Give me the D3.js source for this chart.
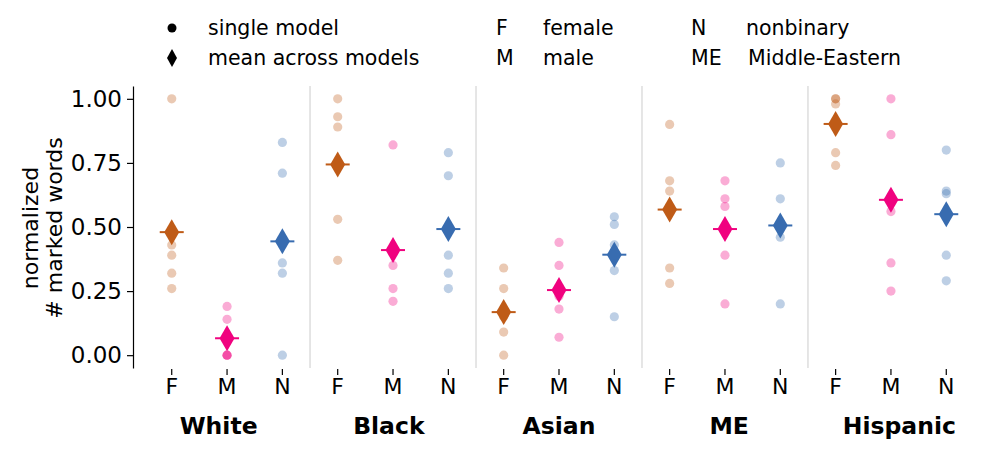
<!DOCTYPE html>
<html>
<head>
<meta charset="utf-8">
<script src="https://cdn.jsdelivr.net/npm/d3@7"></script>
<style>
  body { margin: 0; background: #fff; }
  text { font-family: "DejaVu Sans", sans-serif; fill: #000; }
</style>
</head>
<body>
<div id="chart"></div>
<script>
const races = ['White', 'Black', 'Asian', 'ME', 'Hispanic'];
const genders = ['F', 'M', 'N'];
const genderColors = ['#bf5b17', '#f0027f', '#386cb0'];
const yTicks = [0, 0.25, 0.5, 0.75, 1];

// per model scores, rows = F, M, N
const white = [
  [1.00, 0.43, 0.39, 0.32, 0.26],
  [0.19, 0.14, 0.00, 0.00, 0.00],
  [0.83, 0.71, 0.36, 0.32, 0.00]
];
const black = [
  [1.00, 0.93, 0.89, 0.53, 0.37],
  [0.82, 0.41, 0.35, 0.26, 0.21],
  [0.79, 0.70, 0.39, 0.32, 0.26]
];
const asian = [
  [0.34, 0.26, 0.15, 0.09, 0.00],
  [0.44, 0.35, 0.23, 0.18, 0.07],
  [0.54, 0.51, 0.43, 0.33, 0.15]
];
const middleEastern = [
  [0.90, 0.68, 0.64, 0.34, 0.28],
  [0.68, 0.61, 0.58, 0.39, 0.20],
  [0.75, 0.61, 0.51, 0.46, 0.20]
];
const hispanic = [
  [1.00, 1.00, 0.98, 0.79, 0.74],
  [1.00, 0.86, 0.56, 0.36, 0.25],
  [0.80, 0.64, 0.63, 0.39, 0.29]
];
const raceScores = [white, black, asian, middleEastern, hispanic];

const W = 997, H = 451;
const svg = d3.select('#chart').append('svg')
  .attr('width', W).attr('height', H);

const x = d3.scaleLinear().domain([-0.7, 14.7]).range([133, 985]);
const y = d3.scaleLinear().domain([-0.05, 1.05]).range([368, 86]);

// group separators
svg.selectAll('.sep')
  .data(d3.range(1, races.length))
  .enter().append('line')
  .attr('x1', d => x(d * 3 - 0.5)).attr('x2', d => x(d * 3 - 0.5))
  .attr('y1', y.range()[1]).attr('y2', y.range()[0])
  .attr('stroke', '#dddddd').attr('stroke-width', 1.5);

// y axis
const yAxis = svg.append('g')
  .attr('transform', `translate(${x(-0.7)},0)`)
  .call(d3.axisLeft(y).tickValues(yTicks).tickFormat(d3.format('.2f')).tickSize(6).tickSizeOuter(0).tickPadding(5));
yAxis.select('.domain').attr('stroke', '#000').attr('stroke-width', 1.2);
yAxis.selectAll('.tick line').attr('stroke', '#000').attr('stroke-width', 1.2);
yAxis.selectAll('text').style('font-size', '23px').style('font-family', 'DejaVu Sans');

svg.append('text')
  .attr('transform', 'translate(38,228) rotate(-90)')
  .attr('text-anchor', 'middle')
  .style('font-size', '22px')
  .text('normalized');
svg.append('text')
  .attr('transform', 'translate(62,228) rotate(-90)')
  .attr('text-anchor', 'middle')
  .style('font-size', '22px')
  .text('# marked words');

// x ticks and labels
const cats = [];
races.forEach((r, ri) => genders.forEach((g, gi) => cats.push({ ri, gi, idx: ri * 3 + gi, g })));

svg.selectAll('.xtick')
  .data(cats)
  .enter().append('line')
  .attr('x1', d => x(d.idx)).attr('x2', d => x(d.idx))
  .attr('y1', 369).attr('y2', 375)
  .attr('stroke', '#000').attr('stroke-width', 1.2);

svg.selectAll('.xlab')
  .data(cats)
  .enter().append('text')
  .attr('x', d => x(d.idx)).attr('y', 394)
  .attr('text-anchor', 'middle')
  .style('font-size', '22px')
  .text(d => d.g);

// group names sit slightly wider apart than the tick groups
svg.selectAll('.race')
  .data(races)
  .enter().append('text')
  .attr('x', (d, i) => x(i * 3 + 1 + (i - 2) * 0.076))
  .attr('y', 434)
  .attr('text-anchor', 'middle')
  .style('font-size', '23.5px').style('font-weight', 'bold')
  .text(d => d);

// single model points
const points = [];
raceScores.forEach((rs, ri) => rs.forEach((vals, gi) => vals.forEach(v => points.push({ idx: ri * 3 + gi, gi, v }))));

svg.selectAll('.pt')
  .data(points)
  .enter().append('circle')
  .attr('cx', d => x(d.idx)).attr('cy', d => y(d.v))
  .attr('r', 4.6)
  .attr('fill', d => genderColors[d.gi])
  .attr('fill-opacity', 0.33);

// means
const means = [];
raceScores.forEach((rs, ri) => rs.forEach((vals, gi) => means.push({ idx: ri * 3 + gi, gi, v: d3.mean(vals) })));

const diamond = 'M0,-13 L7.5,0 L0,13 L-7.5,0 Z';
const mg = svg.selectAll('.mean')
  .data(means)
  .enter().append('g')
  .attr('transform', d => `translate(${x(d.idx)},${y(d.v)})`);
mg.append('line')
  .attr('x1', -12).attr('x2', 12)
  .attr('stroke', d => genderColors[d.gi]).attr('stroke-width', 2);
mg.append('path')
  .attr('d', diamond)
  .attr('fill', d => genderColors[d.gi]);

// legend
const legend = svg.append('g');
legend.append('circle').attr('cx', 172).attr('cy', 28).attr('r', 4.5).attr('fill', '#000');
legend.append('path').attr('d', 'M0,-9 L5,0 L0,9 L-5,0 Z').attr('transform', 'translate(172,58)').attr('fill', '#000');

const legendItems = [
  { x: 208, y: 28, t: 'single model' },
  { x: 208, y: 58, t: 'mean across models' },
  { x: 496, y: 28, t: 'F' },
  { x: 543, y: 28, t: 'female' },
  { x: 496, y: 58, t: 'M' },
  { x: 543, y: 58, t: 'male' },
  { x: 691, y: 28, t: 'N' },
  { x: 746, y: 28, t: 'nonbinary' },
  { x: 691, y: 58, t: 'ME' },
  { x: 748, y: 58, t: 'Middle-Eastern' }
];
legend.selectAll('text')
  .data(legendItems)
  .enter().append('text')
  .attr('x', d => d.x).attr('y', d => d.y)
  .attr('dy', '0.35em')
  .style('font-size', '20.5px')
  .text(d => d.t);
</script>
</body>
</html>
